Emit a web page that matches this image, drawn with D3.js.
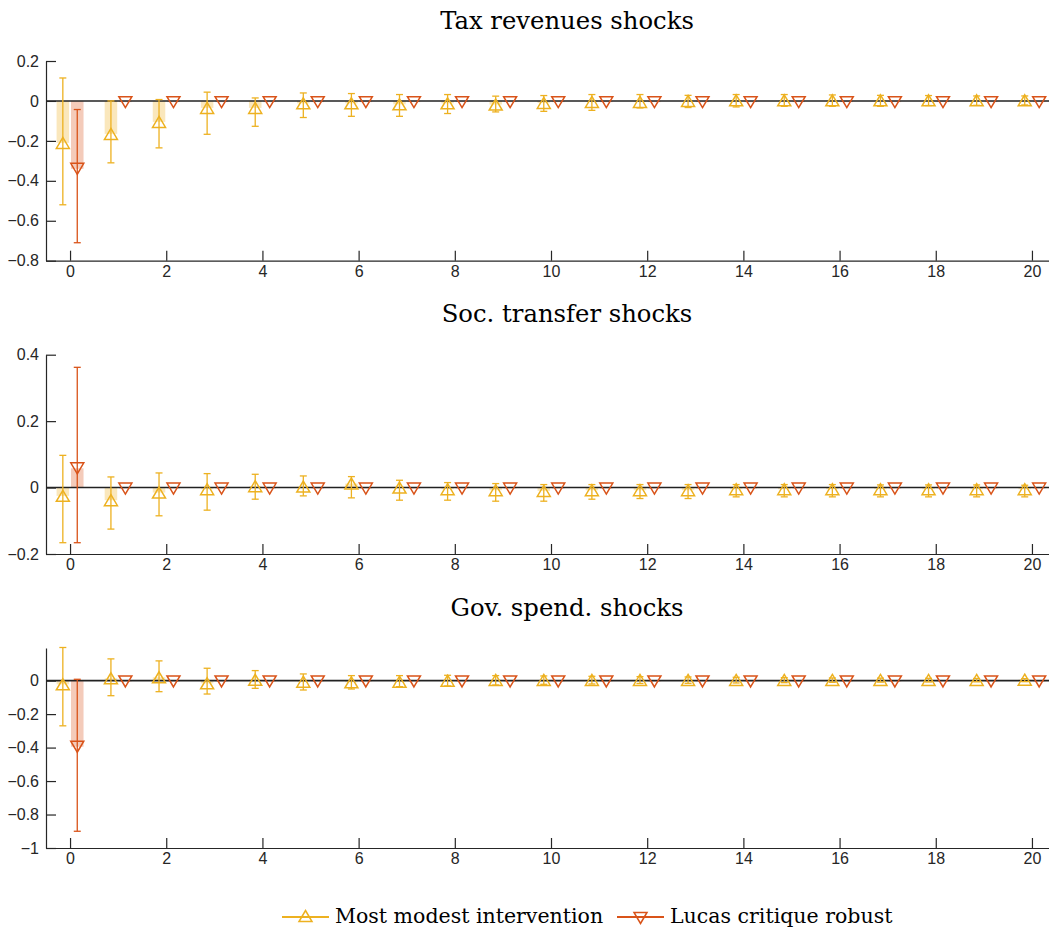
<!DOCTYPE html>
<html>
<head>
<meta charset="utf-8">
<script src="https://cdn.jsdelivr.net/npm/d3@7"></script>
<style>
  body { margin: 0; background: #fff; }
  svg { display: block; }
  .title, .legend text { font-family: "DejaVu Serif", serif; fill: #000; }
</style>
</head>
<body>
<svg id="chart" width="1049" height="932"></svg>
<script>
// horizons
const horizons = [0,1,2,3,4,5,6,7,8,9,10,11,12,13,14,15,16,17,18,19,20];
const xTicks = [0,2,4,6,8,10,12,14,16,18,20];
const seriesNames = ["Most modest intervention", "Lucas critique robust"];

// Tax revenues shocks
const taxModest    = [-0.21,-0.165,-0.105,-0.035,-0.035,-0.012,-0.012,-0.017,-0.012,-0.018,-0.01,-0.005,-0.005,0,0.003,0.003,0.003,0.003,0.003,0.003,0.003];
const taxModestHi  = [0.115,0.0,0.007,0.044,0.015,0.04,0.037,0.032,0.032,0.024,0.027,0.032,0.032,0.028,0.032,0.032,0.03,0.028,0.027,0.025,0.025];
const taxModestLo  = [-0.52,-0.31,-0.235,-0.167,-0.127,-0.083,-0.077,-0.077,-0.063,-0.055,-0.052,-0.047,-0.035,-0.033,-0.03,-0.027,-0.027,-0.027,-0.023,-0.022,-0.02];
const taxLucas     = [-0.34,-0.006,-0.006,-0.006,-0.006,-0.006,-0.006,-0.006,-0.006,-0.006,-0.006,-0.006,-0.006,-0.006,-0.006,-0.006,-0.006,-0.006,-0.006,-0.006,-0.006];
const taxLucasHi   = [-0.043,-0.006,-0.006,-0.006,-0.006,-0.006,-0.006,-0.006,-0.006,-0.006,-0.006,-0.006,-0.006,-0.006,-0.006,-0.006,-0.006,-0.006,-0.006,-0.006,-0.006];
const taxLucasLo   = [-0.71,-0.006,-0.006,-0.006,-0.006,-0.006,-0.006,-0.006,-0.006,-0.006,-0.006,-0.006,-0.006,-0.006,-0.006,-0.006,-0.006,-0.006,-0.006,-0.006,-0.006];

// Soc. transfer shocks
const socModest    = [-0.025,-0.038,-0.015,-0.005,0.004,0.003,0.012,0.0,-0.005,-0.008,-0.01,-0.008,-0.008,-0.008,-0.005,-0.005,-0.005,-0.005,-0.005,-0.005,-0.005];
const socModestHi  = [0.097,0.032,0.044,0.042,0.04,0.035,0.033,0.022,0.015,0.012,0.009,0.009,0.009,0.009,0.009,0.009,0.009,0.008,0.008,0.008,0.007];
const socModestLo  = [-0.166,-0.125,-0.085,-0.068,-0.035,-0.025,-0.031,-0.038,-0.038,-0.041,-0.041,-0.035,-0.033,-0.033,-0.028,-0.028,-0.028,-0.028,-0.028,-0.028,-0.028];
const socLucas     = [0.058,-0.003,-0.003,-0.003,-0.003,-0.003,-0.003,-0.003,-0.003,-0.003,-0.003,-0.003,-0.003,-0.003,-0.003,-0.003,-0.003,-0.003,-0.003,-0.003,-0.003];
const socLucasHi   = [0.362,-0.003,-0.003,-0.003,-0.003,-0.003,-0.003,-0.003,-0.003,-0.003,-0.003,-0.003,-0.003,-0.003,-0.003,-0.003,-0.003,-0.003,-0.003,-0.003,-0.003];
const socLucasLo   = [-0.166,-0.003,-0.003,-0.003,-0.003,-0.003,-0.003,-0.003,-0.003,-0.003,-0.003,-0.003,-0.003,-0.003,-0.003,-0.003,-0.003,-0.003,-0.003,-0.003,-0.003];

// Gov. spend. shocks
const govModest    = [-0.022,0.014,0.02,-0.016,0.005,-0.006,-0.01,-0.006,0.0,0.004,0.004,0.004,0.004,0.004,0.004,0.004,0.004,0.004,0.004,0.004,0.006];
const govModestHi  = [0.198,0.13,0.118,0.074,0.06,0.04,0.03,0.03,0.032,0.03,0.028,0.026,0.024,0.022,0.02,0.018,0.016,0.015,0.014,0.013,0.012];
const govModestLo  = [-0.27,-0.09,-0.066,-0.08,-0.046,-0.056,-0.05,-0.036,-0.032,-0.026,-0.022,-0.02,-0.017,-0.016,-0.014,-0.012,-0.01,-0.009,-0.008,-0.007,-0.006];
const govLucas     = [-0.395,-0.005,-0.005,-0.005,-0.005,-0.005,-0.005,-0.005,-0.005,-0.005,-0.005,-0.005,-0.005,-0.005,-0.005,-0.005,-0.005,-0.005,-0.005,-0.005,-0.005];
const govLucasHi   = [0.008,-0.005,-0.005,-0.005,-0.005,-0.005,-0.005,-0.005,-0.005,-0.005,-0.005,-0.005,-0.005,-0.005,-0.005,-0.005,-0.005,-0.005,-0.005,-0.005,-0.005];
const govLucasLo   = [-0.9,-0.005,-0.005,-0.005,-0.005,-0.005,-0.005,-0.005,-0.005,-0.005,-0.005,-0.005,-0.005,-0.005,-0.005,-0.005,-0.005,-0.005,-0.005,-0.005,-0.005];

const panels = [
  { title: "Tax revenues shocks", top: 61, bottom: 260.7, domain: [-0.8, 0.2],
    ticks: [-0.8,-0.6,-0.4,-0.2,0,0.2],
    series: [[taxModest, taxModestHi, taxModestLo], [taxLucas, taxLucasHi, taxLucasLo]] },
  { title: "Soc. transfer shocks", top: 354.7, bottom: 554, domain: [-0.2, 0.4],
    ticks: [-0.2,0,0.2,0.4],
    series: [[socModest, socModestHi, socModestLo], [socLucas, socLucasHi, socLucasLo]] },
  { title: "Gov. spend. shocks", top: 648, bottom: 848, domain: [-1, 0.195],
    ticks: [-1,-0.8,-0.6,-0.4,-0.2,0],
    series: [[govModest, govModestHi, govModestLo], [govLucas, govLucasHi, govLucasLo]] }
];

const colors = ["#EDB120", "#D95319"];
const offsets = [-0.15, 0.15];
const barW = 0.26;

const svg = d3.select("#chart");
const x = d3.scaleLinear().domain([-0.5, 20.5]).range([46, 1056]);
const axisColor = "#262626";

// triangle path, up or down
function tri(cx, cy, up) {
  const w = 6.5, h = 5.5;
  if (up) return `M${cx},${cy - h}L${cx + w},${cy + h}L${cx - w},${cy + h}Z`;
  return `M${cx},${cy + h}L${cx + w},${cy - h}L${cx - w},${cy - h}Z`;
}

function fmt(d) {
  return d === 0 ? "0" : d3.format("")(+d.toFixed(1));
}

panels.forEach(p => {
  const y = d3.scaleLinear().domain(p.domain).range([p.bottom, p.top]);
  const g = svg.append("g");

  // shaded bars from zero to the point estimate
  p.series.forEach((s, k) => {
    g.append("g").selectAll("rect")
      .data(horizons)
      .enter().append("rect")
      .attr("x", h => x(h + offsets[k] - barW / 2))
      .attr("width", x(barW) - x(0))
      .attr("y", h => y(Math.max(0, s[0][h])))
      .attr("height", h => Math.abs(y(0) - y(s[0][h])))
      .attr("fill", colors[k])
      .attr("fill-opacity", 0.3);
  });

  // zero line
  g.append("line")
    .attr("x1", x.range()[0]).attr("x2", 1049)
    .attr("y1", y(0)).attr("y2", y(0))
    .attr("stroke", "#222").attr("stroke-width", 1.6);

  // error bars and markers
  p.series.forEach((s, k) => {
    const eg = g.append("g").attr("stroke", colors[k]).attr("fill", "none");
    horizons.forEach(h => {
      const cx = x(h + offsets[k]);
      if (Math.abs(y(s[1][h]) - y(s[2][h])) > 1) {
        eg.append("line").attr("x1", cx).attr("x2", cx)
          .attr("y1", y(s[1][h])).attr("y2", y(s[2][h])).attr("stroke-width", 1.3);
        [s[1][h], s[2][h]].forEach(v => {
          eg.append("line").attr("x1", cx - 3.5).attr("x2", cx + 3.5)
            .attr("y1", y(v)).attr("y2", y(v)).attr("stroke-width", 1.3);
        });
      }
      eg.append("path").attr("d", tri(cx, y(s[0][h]), k === 0))
        .attr("stroke-width", 1.5);
    });
  });

  // axes (MATLAB style, inward ticks, no box)
  const yAxis = d3.axisLeft(y).tickValues(p.ticks).tickFormat(fmt).tickSizeInner(-10).tickSizeOuter(0).tickPadding(7);
  const ya = g.append("g").attr("transform", `translate(${x.range()[0]},0)`).call(yAxis);
  const xAxis = d3.axisBottom(x).tickValues(xTicks).tickFormat(d3.format("d")).tickSizeInner(-10).tickSizeOuter(0).tickPadding(5);
  const xa = g.append("g").attr("transform", `translate(0,${p.bottom})`).call(xAxis);
  [ya, xa].forEach(a => {
    a.attr("font-family", "Liberation Sans, Arial, sans-serif").attr("font-size", 16);
    a.select(".domain").attr("stroke", axisColor).attr("stroke-width", 1.2);
    a.selectAll(".tick line").attr("stroke", axisColor).attr("stroke-width", 1.2);
    a.selectAll(".tick text").attr("fill", axisColor);
  });

  svg.append("text").attr("class", "title")
    .attr("x", 567).attr("y", p.top - 32.5)
    .attr("text-anchor", "middle")
    .attr("font-size", 24.3)
    .text(p.title);
});

// legend
const legend = svg.append("g").attr("class", "legend");
const legendItems = [{ x0: 282, up: true }, { x0: 617, up: false }];
legendItems.forEach((it, k) => {
  const ly = 917;
  legend.append("line").attr("x1", it.x0).attr("x2", it.x0 + 47)
    .attr("y1", ly).attr("y2", ly).attr("stroke", colors[k]).attr("stroke-width", 2);
  legend.append("path").attr("d", tri(it.x0 + 23.5, ly - (it.up ? 1 : -1), it.up))
    .attr("fill", "none").attr("stroke", colors[k]).attr("stroke-width", 1.5);
  legend.append("text").attr("x", it.x0 + 53).attr("y", 922.5)
    .attr("font-size", 20.5)
    .text(seriesNames[k]);
});
</script>
</body>
</html>
